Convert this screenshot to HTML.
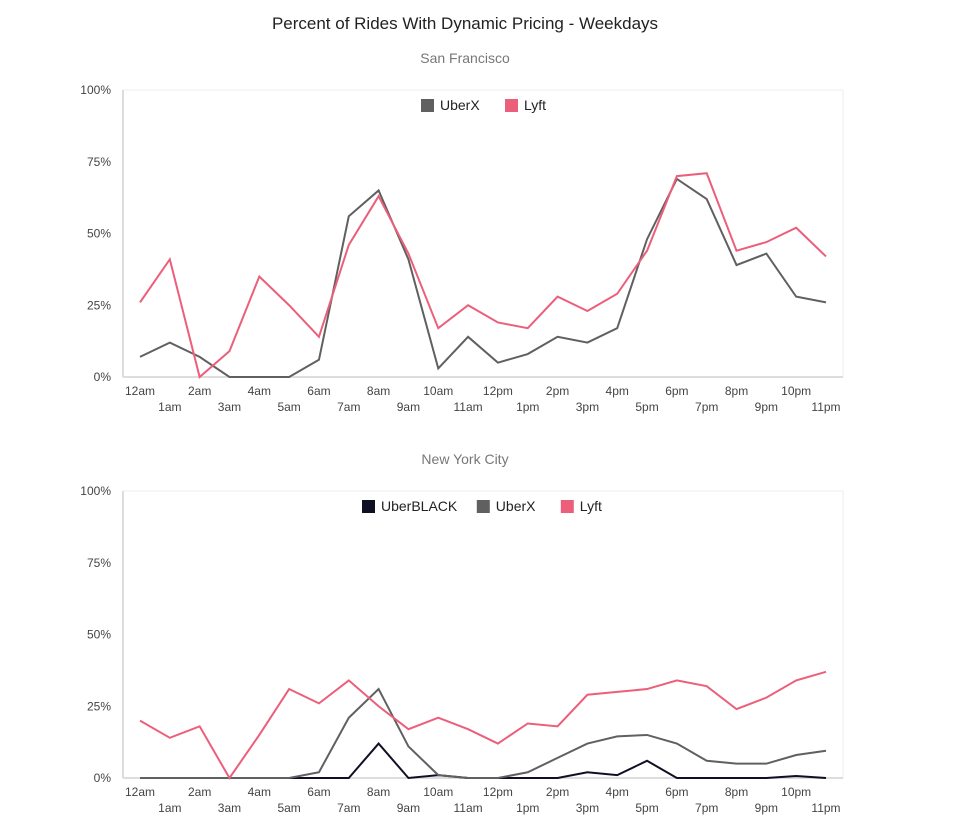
<!DOCTYPE html>
<html><head><meta charset="utf-8"><style>
body{margin:0;background:#fff;font-family:"Liberation Sans",Arial,sans-serif;}
svg text{font-family:"Liberation Sans",Arial,sans-serif;}
</style></head><body>
<svg id="c" width="957" height="835" xmlns="http://www.w3.org/2000/svg">
<text x="465" y="29" text-anchor="middle" font-size="17" fill="#222">Percent of Rides With Dynamic Pricing - Weekdays</text>
</svg>
<script>
const hours=["12am","1am","2am","3am","4am","5am","6am","7am","8am","9am","10am","11am","12pm","1pm","2pm","3pm","4pm","5pm","6pm","7pm","8pm","9pm","10pm","11pm"];
const yTicks=[0,25,50,75,100];
const sfUberX=[7,12,7,0,0,0,6,56,65,41,3,14,5,8,14,12,17,48,69,62,39,43,28,26];
const sfLyft=[26,41,0,9,35,25,14,46,63,43,17,25,19,17,28,23,29,44,70,71,44,47,52,42];
const nyUberBlack=[0,0,0,0,0,0,0,0,12,0,1,0,0,0,0,2,1,6,0,0,0,0,0.7,0];
const nyUberX=[0,0,0,0,0,0,2,21,31,11,1,0,0,2,7,12,14.5,15,12,6,5,5,8,9.5];
const nyLyft=[20,14,18,0,15,31,26,34,25,17,21,17,12,19,18,29,30,31,34,32,24,28,34,37];
const svg=document.getElementById('c');
const NS='http://www.w3.org/2000/svg';
function mk(t,a,txt){const e=document.createElementNS(NS,t);for(const k in a)e.setAttribute(k,a[k]);if(txt!=null)e.textContent=txt;svg.appendChild(e);return e;}
function panel(top,subtitle,series,legendX){
  const x0=123,x1=843,y100=top,y0=top+287;
  const xs=i=>140+i*(826-140)/23;
  const ys=v=>y0-v/100*(y0-y100);
  let e=mk('text',{x:465,y:top-27,'text-anchor':'middle','font-size':14,fill:'#777'},subtitle);
  
  
  e=mk('rect',{x:x0,y:y100,width:x1-x0,height:y0-y100,fill:'none',stroke:'#eee','stroke-width':1});
  
  
  e=mk('line',{x1:x0,y1:y0,x2:x1,y2:y0,stroke:'#ddd','stroke-width':2});
  
  
  e=mk('line',{x1:x0,y1:y100,x2:x0,y2:y0,stroke:'#ddd','stroke-width':2});
  
  
  yTicks.forEach(t=>{const el=mk('text',{x:111,y:ys(t)+4,'text-anchor':'end','font-size':12,fill:'#444'},t+'%');
    
    });
  hours.forEach((h,i)=>{const el=mk('text',{x:xs(i),y:y0+(i%2?34:18),'text-anchor':'middle','font-size':12,fill:'#444'},h);
    
    });
  series.forEach(s=>{
    const el=mk('polyline',{points:s.data.map((v,i)=>xs(i)+','+ys(v)).join(' '),fill:'none',stroke:s.color,'stroke-width':2,'stroke-linejoin':'miter'});
    
    
  });
  let lx=legendX;
  series.forEach(s=>{
    const r=mk('rect',{x:lx,y:top+9,width:13,height:13,fill:s.color});
    
    
    const t=mk('text',{x:lx+19,y:top+20,'font-size':14,fill:'#222'},s.name);
    
    
    lx+=19+s.name.length*8.2+ (s.key.indexOf('black')>=0?22:24);
  });
}
panel(90,'San Francisco',[
 {name:'UberX',key:'sf-uberx',data:sfUberX,color:'#606060'},
 {name:'Lyft',key:'sf-lyft',data:sfLyft,color:'#ec5f7b'}],421);
panel(491,'New York City',[
 {name:'UberBLACK',key:'ny-uberblack',data:nyUberBlack,color:'#101025'},
 {name:'UberX',key:'ny-uberx',data:nyUberX,color:'#606060'},
 {name:'Lyft',key:'ny-lyft',data:nyLyft,color:'#ec5f7b'}],362);
</script>
</body></html>
